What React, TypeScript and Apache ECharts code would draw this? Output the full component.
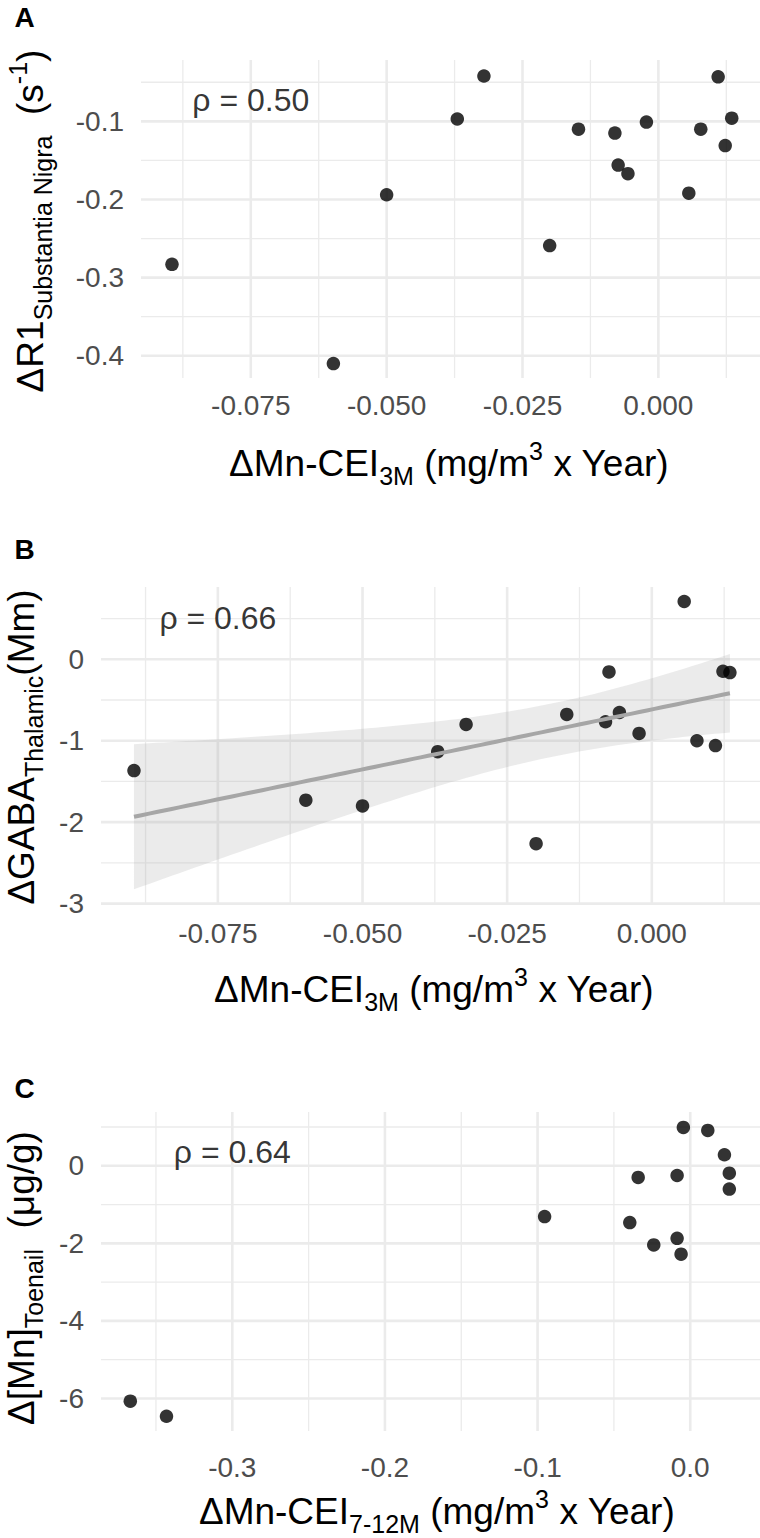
import React, { useEffect, useRef } from 'react';
import * as echarts from 'echarts';

// ---------- data ----------
// Panel A and B share the x variable ΔMn-CEI3M
const cei3m = [-0.0895, -0.0598, -0.05, -0.037, -0.0321, -0.02, -0.0147, -0.008, -0.0074, -0.0056, -0.0022, 0.0056, 0.0078, 0.011, 0.0123, 0.0135];
const r1SubstantiaNigra = [-0.283, -0.41, -0.194, -0.097, -0.042, -0.259, -0.11, -0.115, -0.156, -0.167, -0.101, -0.192, -0.11, -0.043, -0.131, -0.096];
const gabaThalamic = [-1.367, -1.73, -1.8, -1.134, -0.8, -2.264, -0.677, -0.767, -0.155, -0.653, -0.91, 0.71, -1.0, -1.06, -0.147, -0.163];
// Panel C
const cei712m = [-0.3668, -0.3431, -0.0954, -0.0396, -0.0341, -0.0239, -0.0086, -0.0086, -0.006, -0.0045, 0.0115, 0.0224, 0.0256, 0.0256];
const mnToenail = [-6.07, -6.46, -1.31, -1.465, -0.3, -2.04, -0.25, -1.87, -2.28, 0.99, 0.912, 0.284, -0.19, -0.6];

// axis limits (ggplot expanded ranges)
const xLim3M = [-0.0952, 0.0187];
const yLimA = [-0.4285, -0.0215];
const yLimB = [-3.005, 0.888];
const xLimC = [-0.386, 0.0457];
const yLimC = [-6.84, 1.387];

// breaks
const xMajor3M = [-0.075, -0.05, -0.025, 0];
const xMinor3M = [-0.0875, -0.0625, -0.0375, -0.0125, 0.0125];
const yMajorA = [-0.4, -0.3, -0.2, -0.1];
const yMinorA = [-0.35, -0.25, -0.15, -0.05];
const yMajorB = [-3, -2, -1, 0];
const yMinorB = [-2.5, -1.5, -0.5, 0.5];
const xMajorC = [-0.3, -0.2, -0.1, 0];
const xMinorC = [-0.35, -0.25, -0.15, -0.05];
const yMajorC = [-6, -4, -2, 0];
const yMinorC = [-5, -3, -1, 1];

// annotations
const panelLetters = ['A', 'B', 'C'];
const rhoTexts = ['ρ = 0.50', 'ρ = 0.66', 'ρ = 0.64'];
const rhoX = [-0.075, -0.075, -0.3];
const rhoY = [-0.073, 0.51, 0.35];

const FF = '"Liberation Sans", Arial, Helvetica, sans-serif';

// linear model with 95% confidence band (as geom_smooth(method = "lm"))
function lmBand(x: number[], y: number[], n = 80) {
  const N = x.length;
  const mx = x.reduce((a, b) => a + b, 0) / N;
  const my = y.reduce((a, b) => a + b, 0) / N;
  let sxx = 0, sxy = 0;
  for (let i = 0; i < N; i++) { sxx += (x[i] - mx) ** 2; sxy += (x[i] - mx) * (y[i] - my); }
  const b = sxy / sxx;
  const a = my - b * mx;
  let sse = 0;
  for (let i = 0; i < N; i++) sse += (y[i] - a - b * x[i]) ** 2;
  const s = Math.sqrt(sse / (N - 2));
  const t = 2.144787; // qt(0.975, df = 14)
  const lo = Math.min(...x), hi = Math.max(...x);
  const out: number[][] = [];
  for (let k = 0; k < n; k++) {
    const xx = lo + ((hi - lo) * k) / (n - 1);
    const yh = a + b * xx;
    const se = s * Math.sqrt(1 / N + (xx - mx) ** 2 / sxx);
    out.push([xx, yh, yh - t * se, yh + t * se]);
  }
  return out;
}

const richStyles = {
  m: { fontSize: 37, fontFamily: FF, color: '#000' },
  s: { fontSize: 25, fontFamily: FF, color: '#000', padding: [25, 0, 0, 0] },
  p: { fontSize: 25, fontFamily: FF, color: '#000', padding: [0, 0, 25, 0] },
};

function App() {
  const ref = useRef<HTMLDivElement>(null);
  useEffect(() => {
    const chart = echarts.init(ref.current!, null, { renderer: 'svg' });

    const panels = [
      { grid: { left: 141, top: 60, width: 619, height: 318 }, xLim: xLim3M, yLim: yLimA, xMaj: xMajor3M, xMin: xMinor3M, yMaj: yMajorA, yMin: yMinorA, xDec: 3, yDec: 1, xMargin: 13, x: cei3m, y: r1SubstantiaNigra },
      { grid: { left: 101, top: 587, width: 659, height: 317 }, xLim: xLim3M, yLim: yLimB, xMaj: xMajor3M, xMin: xMinor3M, yMaj: yMajorB, yMin: yMinorB, xDec: 3, yDec: 0, xMargin: 15, x: cei3m, y: gabaThalamic },
      { grid: { left: 101, top: 1112, width: 659, height: 319 }, xLim: xLimC, yLim: yLimC, xMaj: xMajorC, xMin: xMinorC, yMaj: yMajorC, yMin: yMinorC, xDec: 1, yDec: 0, xMargin: 22, x: cei712m, y: mnToenail },
    ];

    const grids: any[] = [], xAxes: any[] = [], yAxes: any[] = [], series: any[] = [];
    panels.forEach((p, i) => {
      grids.push({ ...p.grid, containLabel: false });
      xAxes.push({
        gridIndex: i, type: 'value', min: p.xLim[0], max: p.xLim[1],
        axisLine: { show: false }, axisTick: { show: false }, splitLine: { show: false },
        axisLabel: { customValues: p.xMaj, formatter: (v: number) => v.toFixed(p.xDec), fontSize: 28, color: '#4d4d4d', fontFamily: FF, margin: p.xMargin },
      });
      yAxes.push({
        gridIndex: i, type: 'value', min: p.yLim[0], max: p.yLim[1],
        axisLine: { show: false }, axisTick: { show: false }, splitLine: { show: false },
        axisLabel: { customValues: p.yMaj, formatter: (v: number) => v.toFixed(p.yDec), fontSize: 28, color: '#4d4d4d', fontFamily: FF, margin: 17 },
      });
      const gl = [
        ...p.xMin.map(v => [v, 0, 0]), ...p.yMin.map(v => [v, 1, 0]),
        ...p.xMaj.map(v => [v, 0, 1]), ...p.yMaj.map(v => [v, 1, 1]),
      ];
      series.push({
        type: 'custom', xAxisIndex: i, yAxisIndex: i, silent: true, data: gl,
        renderItem: (params: any, api: any) => {
          const cs = params.coordSys;
          const v = api.value(0), dir = api.value(1), major = api.value(2);
          const style = { stroke: '#ebebeb', lineWidth: major ? 2.6 : 1.3 };
          if (dir === 0) {
            const px = api.coord([v, p.yLim[0]])[0];
            return { type: 'line', shape: { x1: px, y1: cs.y, x2: px, y2: cs.y + cs.height }, style };
          }
          const py = api.coord([p.xLim[0], v])[1];
          return { type: 'line', shape: { x1: cs.x, y1: py, x2: cs.x + cs.width, y2: py }, style };
        },
      });
      if (i === 1) {
        const band = lmBand(p.x, p.y);
        series.push({
          type: 'custom', xAxisIndex: i, yAxisIndex: i, silent: true, data: [[band[0][0], band[0][1]]],
          renderItem: (_params: any, api: any) => {
            const up = band.map(b => api.coord([b[0], b[3]]));
            const lo = band.map(b => api.coord([b[0], b[2]])).reverse();
            return { type: 'polygon', shape: { points: up.concat(lo) }, style: { fill: 'rgba(153,153,153,0.2)' } };
          },
        });
        series.push({
          type: 'line', xAxisIndex: i, yAxisIndex: i, silent: true, symbol: 'none',
          data: band.map(b => [b[0], b[1]]),
          lineStyle: { color: '#a6a6a6', width: 4 },
        });
      }
      series.push({
        type: 'scatter', xAxisIndex: i, yAxisIndex: i, silent: true,
        data: p.x.map((xv, k) => [xv, p.y[k]]),
        symbol: 'circle', symbolSize: 13.5, itemStyle: { color: '#000' },
      });
      series.push({
        type: 'scatter', xAxisIndex: i, yAxisIndex: i, silent: true,
        data: [[rhoX[i], rhoY[i]]], symbolSize: 0,
        label: { show: true, position: 'inside', formatter: rhoTexts[i], fontSize: 32, color: '#000', fontFamily: FF },
      });
    });

    const text = (t: string, x: number, y: number, rot = 0) => ({
      type: 'text', x, y, rotation: rot, silent: true,
      style: { text: t, rich: richStyles, align: 'center', verticalAlign: 'middle', fill: '#000', fontSize: 37, fontFamily: FF },
    });
    const graphics: any[] = [
      text('{m|ΔMn-CEI}{s|3M}{m| (mg/m}{p|3}{m| x Year)}', 449, 463),
      text('{m|ΔMn-CEI}{s|3M}{m| (mg/m}{p|3}{m| x Year)}', 434, 989),
      text('{m|ΔMn-CEI}{s|7-12M}{m| (mg/m}{p|3}{m| x Year)}', 437, 1511),
      text('{m|ΔR1}{s|Substantia Nigra}{m|  (s}{p|-1}{m|)}', 30.5, 221, Math.PI / 2),
      text('{m|ΔGABA}{s|Thalamic}{m|(Mm)}', 21, 747, Math.PI / 2),
      text('{m|Δ[Mn]}{s|Toenail}{m|  (μg/g)}', 21, 1278, Math.PI / 2),
    ];
    const letterY = [17.3, 549.3, 1088.3];
    panelLetters.forEach((L, i) => {
      graphics.push({
        type: 'text', x: 14.5, y: letterY[i], silent: true,
        style: { text: L, fontSize: 28, fontWeight: 'bold', fontFamily: FF, fill: '#000', align: 'left', verticalAlign: 'middle' },
      });
    });

    chart.setOption({
      animation: false,
      backgroundColor: '#fff',
      grid: grids,
      xAxis: xAxes,
      yAxis: yAxes,
      series,
      graphic: graphics,
    });
    return () => chart.dispose();
  }, []);
  return <div ref={ref} style={{ position: 'absolute', left: 0, top: 0, width: 760, height: 1538, background: '#fff' }} />;
}

export default App;
